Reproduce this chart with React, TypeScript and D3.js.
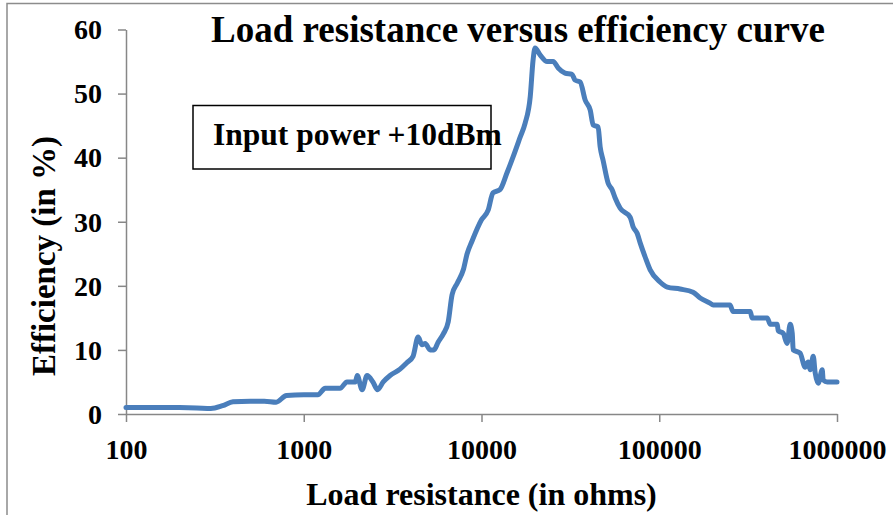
import React, { useEffect, useRef } from "react";
import * as d3 from "d3";

// load resistance (ohms)
const resistance = [
  100, 150, 200, 250, 300, 350, 400, 500, 600, 700, 800, 1000, 1200, 1320, 1600,
  1750, 1950, 2000, 2130, 2270, 2450, 2600, 2800, 3060, 3480, 3800, 4120, 4400,
  4630, 4820, 5140, 5400, 5700, 6100, 6500, 6830, 7300, 7900, 8300, 8850, 10000,
  10900, 11600, 12700, 13900, 15000, 16500, 17600, 18800, 19500, 20000, 21400,
  23400, 25300, 27000, 29500, 32300, 33600, 35900, 38300, 40900, 42500, 45300,
  46500, 48300, 51600, 54300, 56500, 60300, 68600, 71300, 75100, 78100, 83300,
  88900, 101000, 111000, 131000, 155000, 170000, 193000, 201000, 250000, 260000,
  325000, 333000, 405000, 421000, 461000, 467000, 498000, 524000, 545000, 560000,
  567000, 620000, 662000, 688000, 707000, 735000, 754000, 784000, 826000, 836000,
  881000, 1000000,
];
// efficiency (%)
const efficiency = [
  1, 1, 1, 0.95, 0.85, 1.3, 1.9, 2, 2, 1.85, 2.9, 3, 3, 4, 4,
  5, 5, 6, 3.8, 6, 5, 3.8, 5, 6, 7, 8, 9, 12,
  10.8, 11, 10, 10, 11.2, 12.5, 14.4, 18.6, 20.4, 22.5, 25, 27, 30.3,
  31.8, 34.5, 35, 37.6, 40, 43.2, 45.4, 49.5, 55.2, 57.1, 56,
  55, 55, 54, 53.2, 53, 52.1, 51.8, 49, 47.4, 45.1, 44.8,
  41.7, 39.6, 36, 35, 33.7, 32.1, 30.7, 29.2, 28.2, 26.7, 24.5,
  22.5, 20.6, 19.8, 19.5, 19, 18.1, 17.3, 17, 17, 16,
  16, 15, 15, 14, 14, 13, 12.6, 11, 14, 12.6,
  10, 9.5, 7.3, 8.1, 6.9, 9, 6.4, 4.8, 6.9, 5.3,
  5, 5,
];

const xTicks = [100, 1000, 10000, 100000, 1000000];
const yTicks = [0, 10, 20, 30, 40, 50, 60];

const titleText = "Load resistance versus efficiency curve";
const noteText = "Input power +10dBm";
const xTitle = "Load resistance (in ohms)";
const yTitle = "Efficiency (in %)";

const W = 893;
const H = 515;
const axisColor = "#878787";
const lineColor = "#4a7ebb";
const font = "'Liberation Serif', 'Times New Roman', serif";

export default function App() {
  const ref = useRef<SVGSVGElement>(null);

  useEffect(() => {
    const svg = d3.select(ref.current);
    svg.selectAll("*").remove();

    const x = d3.scaleLog().domain([100, 1000000]).range([126, 837]);
    const y = d3.scaleLinear().domain([0, 60]).range([414, 29.5]);

    // outer chart frame (only top & left show in the crop)
    svg.append("path")
      .attr("d", `M7,${H} V3.5 H${W}`)
      .attr("fill", "none")
      .attr("stroke", "#8c8c8c")
      .attr("stroke-width", 1.5);

    // y axis
    const yAxis = svg.append("g")
      .attr("transform", `translate(${x(100)},0)`)
      .call(d3.axisLeft(y).tickValues(yTicks).tickSize(8).tickPadding(16).tickSizeOuter(0));
    // x axis
    const xAxis = svg.append("g")
      .attr("transform", `translate(0,${y(0)})`)
      .call(d3.axisBottom(x).tickValues(xTicks).tickFormat(d3.format("d")).tickSize(8).tickPadding(17).tickSizeOuter(0));

    [yAxis, xAxis].forEach((g) => {
      g.select(".domain").attr("stroke", axisColor).attr("stroke-width", 1.5);
      g.selectAll(".tick line").attr("stroke", axisColor).attr("stroke-width", 1.5);
      g.selectAll(".tick text")
        .attr("fill", "#000")
        .style("font-family", font)
        .style("font-weight", "bold")
        .style("font-size", "28px");
    });
    yAxis.selectAll(".tick text").attr("dy", "0.33em");
    xAxis.selectAll(".tick text").attr("dy", "0.71em");

    // efficiency curve
    const pts: [number, number][] = resistance.map((r, i) => [r, efficiency[i]]);
    const line = d3.line<[number, number]>()
      .x((d) => x(d[0]))
      .y((d) => y(d[1]))
      .curve(d3.curveMonotoneX);
    svg.append("path")
      .datum(pts)
      .attr("d", line)
      .attr("fill", "none")
      .attr("stroke", lineColor)
      .attr("stroke-width", 5)
      .attr("stroke-linejoin", "round")
      .attr("stroke-linecap", "round");

    // title
    svg.append("text")
      .attr("x", 518).attr("y", 42)
      .attr("text-anchor", "middle")
      .style("font-family", font).style("font-weight", "bold").style("font-size", "37px")
      .text(titleText);

    // input power box
    svg.append("rect")
      .attr("x", 193).attr("y", 105.5).attr("width", 298).attr("height", 63.5)
      .attr("fill", "none").attr("stroke", "#000").attr("stroke-width", 1.5);
    svg.append("text")
      .attr("x", 213).attr("y", 145)
      .style("font-family", font).style("font-weight", "bold").style("font-size", "31.5px")
      .text(noteText);

    // axis titles
    svg.append("text")
      .attr("x", 481.5).attr("y", 505)
      .attr("text-anchor", "middle")
      .style("font-family", font).style("font-weight", "bold").style("font-size", "32px")
      .text(xTitle);
    svg.append("text")
      .attr("transform", "translate(55,256) rotate(-90)")
      .attr("text-anchor", "middle")
      .style("font-family", font).style("font-weight", "bold").style("font-size", "33px")
      .text(yTitle);
  }, []);

  return (
    <svg
      ref={ref}
      width={W}
      height={H}
      style={{ position: "absolute", left: 0, top: 0, background: "#fff" }}
    />
  );
}
